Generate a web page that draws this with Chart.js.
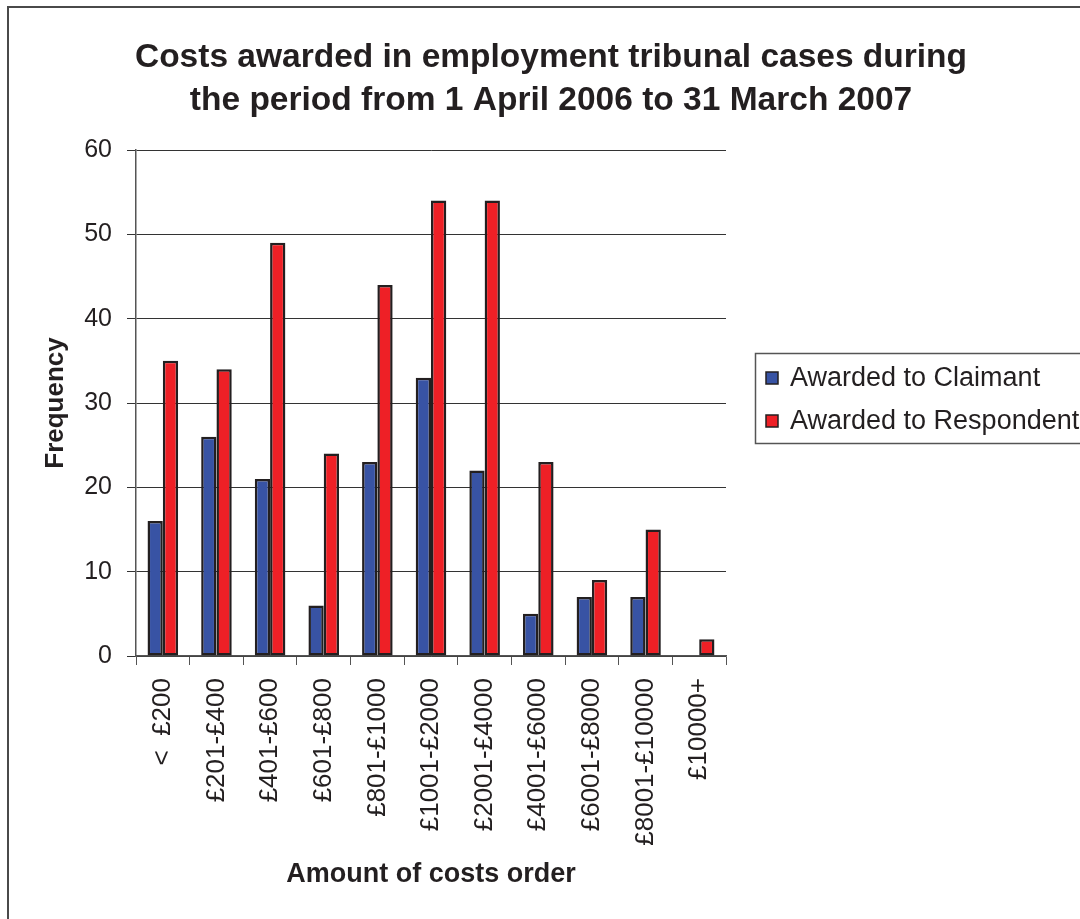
<!DOCTYPE html>
<html>
<head>
<meta charset="utf-8">
<script src="https://cdn.jsdelivr.net/npm/chart.js@4.4.1/dist/chart.umd.min.js"></script>
<style>
  html, body { margin: 0; padding: 0; background: #fff; }
  #wrap { width: 1080px; height: 919px; position: relative; }
</style>
</head>
<body>
<div id="wrap"><canvas id="costsChart"></canvas></div>
<script>
// categories and counts
const categories = ["<  £200", "£201-£400", "£401-£600", "£601-£800", "£801-£1000",
    "£1001-£2000", "£2001-£4000", "£4001-£6000", "£6001-£8000", "£8001-£10000", "£10000+"];
const claimant = [16, 26, 21, 6, 23, 33, 22, 5, 7, 7, 0];
const respondent = [35, 34, 49, 24, 44, 54, 54, 23, 9, 15, 2];
const yTicks = [0, 10, 20, 30, 40, 50, 60];

const titleLines = ["Costs awarded in employment tribunal cases during",
    "the period from 1 April 2006 to 31 March 2007"];

const FONT = "'Liberation Sans', Arial, sans-serif";
const INK = "#231f20";

// title, outer frame and legend box drawn by hand
const decorations = {
    id: "decorations",
    afterDraw(chart) {
        const ctx = chart.ctx;
        ctx.save();
        ctx.strokeStyle = "#4a4a4a";
        ctx.lineWidth = 2;
        ctx.strokeRect(8, 7, 1100, 1000);

        ctx.fillStyle = INK;
        ctx.font = "bold 33.5px " + FONT;
        ctx.textAlign = "center";
        ctx.textBaseline = "middle";
        ctx.fillText(titleLines[0], 551, 58);
        ctx.fillText(titleLines[1], 551, 101);

        // legend
        ctx.strokeStyle = "#555";
        ctx.lineWidth = 1.5;
        ctx.strokeRect(755.5, 353.5, 340, 90);
        ctx.font = "27px " + FONT;
        ctx.textAlign = "left";
        chart.data.datasets.forEach((ds, i) => {
            const y = 378 + i * 43;
            ctx.fillStyle = ds.backgroundColor;
            ctx.fillRect(766, y - 6, 12, 12);
            ctx.strokeStyle = INK;
            ctx.lineWidth = 1.5;
            ctx.strokeRect(766, y - 6, 12, 12);
            ctx.fillStyle = INK;
            ctx.fillText(ds.label, 790, y + 1);
        });
        ctx.restore();
    }
};

new Chart(document.getElementById("costsChart"), {
    type: "bar",
    data: {
        labels: categories,
        datasets: [{
            label: "Awarded to Claimant",
            data: claimant,
            backgroundColor: "#3853a4",
            borderColor: INK,
            borderWidth: 2.5,
            borderSkipped: false
        }, {
            label: "Awarded to Respondent",
            data: respondent,
            backgroundColor: "#ee2026",
            borderColor: INK,
            borderWidth: 2.5,
            borderSkipped: false
        }]
    },
    options: {
        responsive: true,
        maintainAspectRatio: false,
        animation: false,
        layout: { padding: { left: 30, top: 150, right: 354, bottom: 0 } },
        datasets: { bar: { categoryPercentage: 0.57, barPercentage: 1.0 } },
        plugins: {
            legend: { display: false },
            title: { display: false },
            tooltip: { enabled: false }
        },
        scales: {
            x: {
                afterFit(scale) { scale.height = 263; },
                grid: { drawOnChartArea: false, drawTicks: true, tickLength: 9, color: "#555", offset: true },
                border: { color: "#555", width: 1.5 },
                ticks: {
                    color: INK,
                    font: { family: FONT, size: 26 },
                    minRotation: 90,
                    maxRotation: 90,
                    padding: 13,
                    autoSkip: false
                },
                title: {
                    display: true,
                    text: "Amount of costs order",
                    color: INK,
                    font: { family: FONT, size: 27, weight: "bold" },
                    padding: { bottom: 28 }
                }
            },
            y: {
                min: 0,
                max: 60,
                afterFit(scale) { scale.width = 106; },
                afterBuildTicks(scale) { scale.ticks = yTicks.map(v => ({ value: v })); },
                grid: { color: "#333", lineWidth: 1, tickLength: 9 },
                border: { color: "#555", width: 1.5 },
                ticks: {
                    color: INK,
                    font: { family: FONT, size: 25 },
                    padding: 15
                },
                title: {
                    display: true,
                    text: "Frequency",
                    color: INK,
                    font: { family: FONT, size: 26, weight: "bold" },
                    padding: { top: 10 }
                }
            }
        }
    },
    plugins: [decorations]
});
</script>
</body>
</html>
